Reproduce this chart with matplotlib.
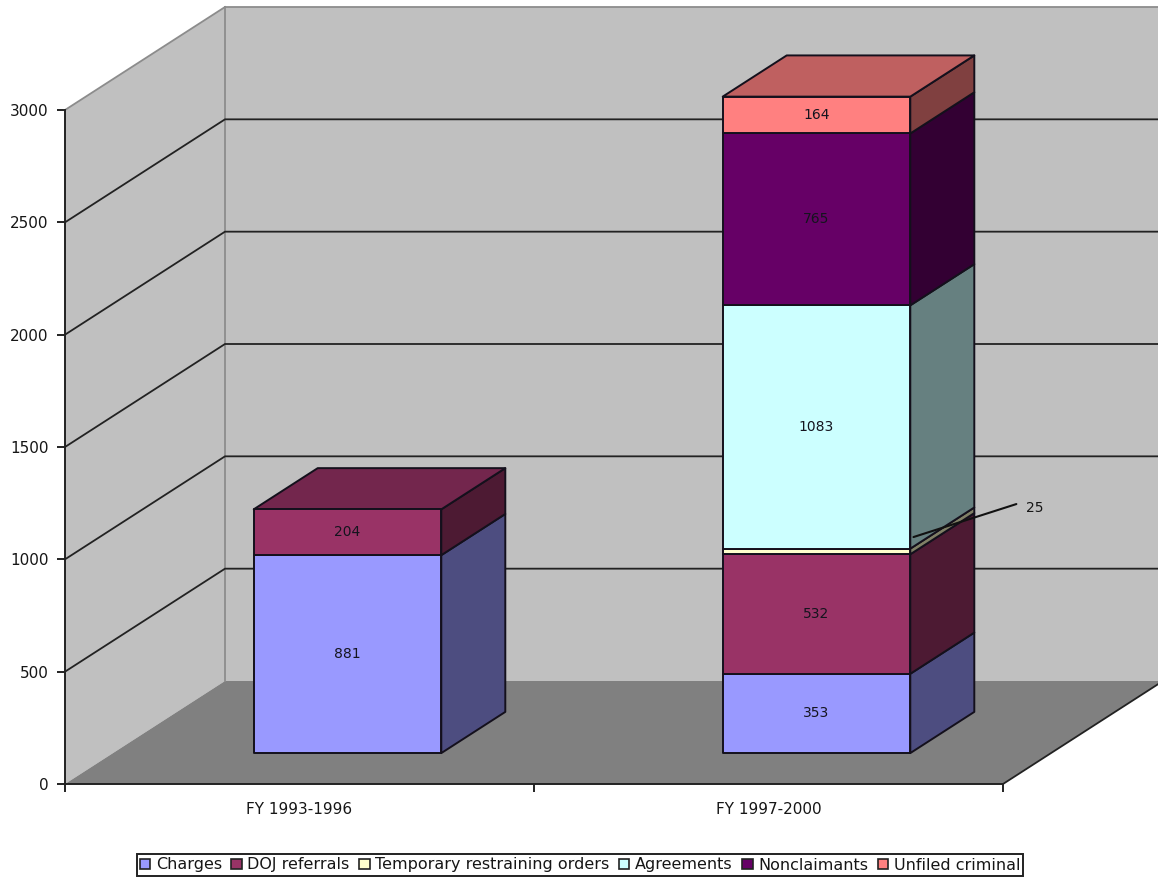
import matplotlib
matplotlib.use("Agg")
from matplotlib import pyplot as plt
from matplotlib.patches import Polygon, Patch
from matplotlib.colors import to_rgb

periods = ["FY 1993-1996", "FY 1997-2000"]
series_names = ["Charges", "DOJ referrals", "Temporary restraining orders",
                "Agreements", "Nonclaimants", "Unfiled criminal"]
charges = [881, 353]
doj_referrals = [204, 532]
restraining_orders = [0, 25]
agreements = [0, 1083]
nonclaimants = [0, 765]
unfiled_criminal = [0, 164]
series_colors = ["#9999FF", "#993366", "#FFFFCC", "#CCFFFF", "#660066", "#FF8080"]
y_ticks = [0, 500, 1000, 1500, 2000, 2500, 3000]

W, H = 1158, 877
X0, X1, Y0, Y1 = 65, 1003, 784, 110      # front plane of the chart, pixels
DX = 160 / ((X1 - X0) / 2)               # depth shift in x units
DY = 103 / ((Y0 - Y1) / 3000)            # depth shift in y units
BAR_W = 0.4
D_FRONT, D_BACK = 0.30, 0.70
EDGE = "#14101c"
TEXT = "#161616"
FONT = "DejaVu Sans"

plt.rcParams["font.family"] = FONT


def proj(x, y, d):
    # oblique projection: d=0 front plane, d=1 back wall
    return x + d * DX, y + d * DY


def shade(color, k):
    r, g, b = to_rgb(color)
    return (r * k, g * k, b * k)


def poly(ax, pts, fc, ec=None, lw=0.0, z=1):
    ax.add_patch(Polygon(pts, closed=True, facecolor=fc, edgecolor=ec or fc,
                         linewidth=lw, zorder=z, clip_on=False, joinstyle="round"))


def draw_walls(ax):
    top = y_ticks[-1]
    poly(ax, [proj(0, 0, 0), proj(0, top, 0), proj(0, top, 1), proj(0, 0, 1)], "#C0C0C0", z=1)
    poly(ax, [proj(0, 0, 1), proj(0, top, 1), proj(2, top, 1), proj(2, 0, 1)], "#C0C0C0", z=1)
    poly(ax, [proj(0, 0, 0), proj(0, 0, 1), proj(2, 0, 1), proj(2, 0, 0)], "#808080", z=1)
    # wall edges
    for a, b in [(proj(0, top, 0), proj(0, top, 1)), (proj(0, top, 1), proj(2, top, 1)),
                 (proj(0, 0, 1), proj(0, top, 1))]:
        ax.plot([a[0], b[0]], [a[1], b[1]], color="#8c8c8c", lw=1.3, zorder=2, clip_on=False)
    for t in y_ticks[1:-1]:
        pts = [proj(0, t, 0), proj(0, t, 1), proj(2, t, 1)]
        ax.plot([p[0] for p in pts], [p[1] for p in pts], color="#222222", lw=1.3,
                zorder=2, clip_on=False, solid_joinstyle="miter")
    a, b = proj(2, 0, 0), proj(2, 0, 1)
    ax.plot([a[0], b[0]], [a[1], b[1]], color="#222222", lw=1.3, zorder=2, clip_on=False)


def draw_stack(ax, center, values):
    left, right = center - BAR_W / 2, center + BAR_W / 2
    base = 0
    shown = [(v, c) for v, c in zip(values, series_colors) if v > 0]
    for i, (v, c) in enumerate(shown):
        tip = base + v
        poly(ax, [proj(right, base, D_FRONT), proj(right, tip, D_FRONT),
                  proj(right, tip, D_BACK), proj(right, base, D_BACK)],
             shade(c, 0.5), EDGE, 1.4, 5)
        poly(ax, [proj(left, base, D_FRONT), proj(right, base, D_FRONT),
                  proj(right, tip, D_FRONT), proj(left, tip, D_FRONT)],
             c, EDGE, 1.4, 6)
        if i == len(shown) - 1:
            poly(ax, [proj(left, tip, D_FRONT), proj(right, tip, D_FRONT),
                      proj(right, tip, D_BACK), proj(left, tip, D_BACK)],
                 shade(c, 0.75), EDGE, 1.4, 5)
        if v >= 100:
            lx, ly = proj(center, base + v / 2, D_FRONT)
            ax.text(lx, ly, str(v), ha="center", va="center", fontsize=10,
                    color="#14141e", zorder=8)
        else:
            # thin slice: label sits outside the bar with a leader line
            lx, ly = proj(right, base + v / 2 + 55, D_FRONT + 0.02)
            ax.annotate(str(v), xy=(lx, ly), xytext=(121, 29), textcoords="offset pixels",
                        ha="center", va="center", fontsize=10, color=TEXT, zorder=9,
                        arrowprops=dict(arrowstyle="-", lw=1.5, color="#111111",
                                        shrinkA=5, shrinkB=0, relpos=(0, 1)))
        base = tip


if __name__ == "__main__":
    fig = plt.figure(figsize=(W / 100, H / 100), dpi=100, facecolor="white")
    ax = fig.add_axes([X0 / W, (H - Y0) / H, (X1 - X0) / W, (Y0 - Y1) / H])
    ax.set_xlim(0, 2)
    ax.set_ylim(0, 3000)
    ax.patch.set_visible(False)
    for side in ["top", "right"]:
        ax.spines[side].set_visible(False)
    for side in ["left", "bottom"]:
        ax.spines[side].set_linewidth(1.4)
        ax.spines[side].set_color("#222222")
        ax.spines[side].set_zorder(3)

    ax.set_yticks(y_ticks)
    ax.set_xticks([0, 1, 2])
    ax.set_xticklabels([])
    ax.set_xticks([0.5, 1.5], minor=True)
    ax.set_xticklabels(periods, minor=True)
    ax.tick_params(axis="y", length=6, width=1.4, color="#222222", labelsize=11,
                   labelcolor=TEXT, pad=6)
    ax.tick_params(axis="x", which="major", length=6, width=1.4, color="#222222")
    ax.tick_params(axis="x", which="minor", length=0, labelsize=11, labelcolor=TEXT, pad=13)

    draw_walls(ax)
    columns = list(zip(charges, doj_referrals, restraining_orders, agreements,
                       nonclaimants, unfiled_criminal))
    for i, vals in enumerate(columns):
        draw_stack(ax, i + 0.5, vals)

    handles = [Patch(facecolor=c, edgecolor="#222222", linewidth=1.2) for c in series_colors]
    leg = fig.legend(handles, series_names, ncol=6, loc="center", bbox_to_anchor=(580 / W, 1 - 865 / H),
                     fontsize=11.5, frameon=True, fancybox=False, edgecolor="#222222",
                     framealpha=1, handlelength=0.65, handleheight=0.6, handletextpad=0.35,
                     columnspacing=0.6, borderpad=0.2, borderaxespad=0, labelcolor=TEXT)
    leg.get_frame().set_linewidth(1.4)

    fig.savefig("out.png", dpi=100, facecolor="white")
